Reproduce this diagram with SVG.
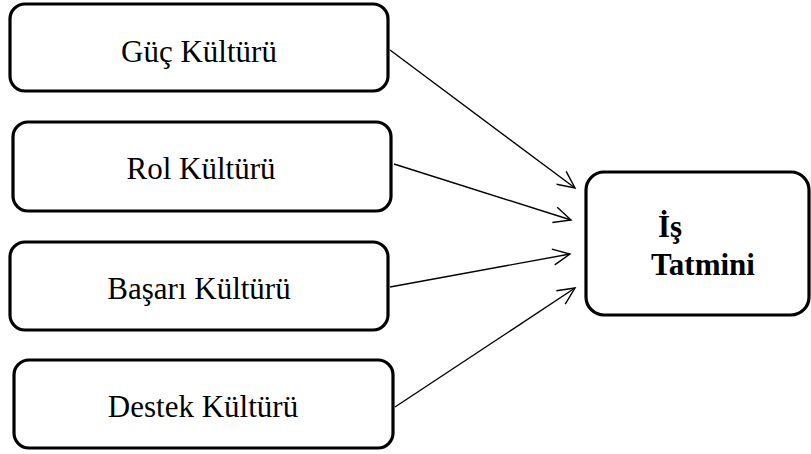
<svg xmlns="http://www.w3.org/2000/svg" width="811" height="454" viewBox="0 0 811 454">
  <style>
    .box { fill: #ffffff; stroke: #000000; stroke-width: 3.2; }
    .label { font-size: 31px; fill: #000000; }
    .center { text-anchor: middle; }
    .bold { font-weight: bold; }
    .link { fill: none; stroke: #000000; stroke-width: 1.4; marker-end: url(#arrow); }
  </style>
  <defs>
    <!-- open V arrowhead for the connectors -->
    <marker id="arrow" markerUnits="userSpaceOnUse" viewBox="-20 -10 22 20" refX="0" refY="0" markerWidth="22" markerHeight="20" orient="auto">
      <path d="M -17 -8 L 0 0 L -17 8" fill="none" stroke="#000000" stroke-width="1.4"/>
    </marker>
  </defs>
  <rect width="811" height="454" fill="#ffffff"/>

  <g id="nodes" font-family="'Liberation Serif', 'Times New Roman', serif">
    <g id="guc">
      <rect class="box" x="10" y="4" width="378" height="87" rx="15" ry="15"/>
      <text class="label center" x="199" y="62">Güç Kültürü</text>
    </g>
    <g id="rol">
      <rect class="box" x="13" y="122" width="378" height="89" rx="15" ry="15"/>
      <text class="label center" x="201" y="179">Rol Kültürü</text>
    </g>
    <g id="basari">
      <rect class="box" x="10" y="242" width="378" height="88" rx="15" ry="15"/>
      <text class="label center" x="199" y="299">Başarı Kültürü</text>
    </g>
    <g id="destek">
      <rect class="box" x="14" y="360" width="379" height="88" rx="15" ry="15"/>
      <text class="label center" x="203" y="417">Destek Kültürü</text>
    </g>
    <g id="is-tatmini">
      <rect class="box" x="586" y="172" width="223" height="143" rx="18" ry="18"/>
      <text class="label bold" x="658" y="237">İş</text>
      <text class="label bold" x="651" y="275">Tatmini</text>
    </g>
  </g>

  <g id="connectors">
    <line class="link" x1="390" y1="50" x2="575" y2="188"/>
    <line class="link" x1="394" y1="164" x2="571" y2="220"/>
    <line class="link" x1="390" y1="287" x2="570" y2="254"/>
    <line class="link" x1="395" y1="407" x2="575" y2="288"/>
  </g>
</svg>
